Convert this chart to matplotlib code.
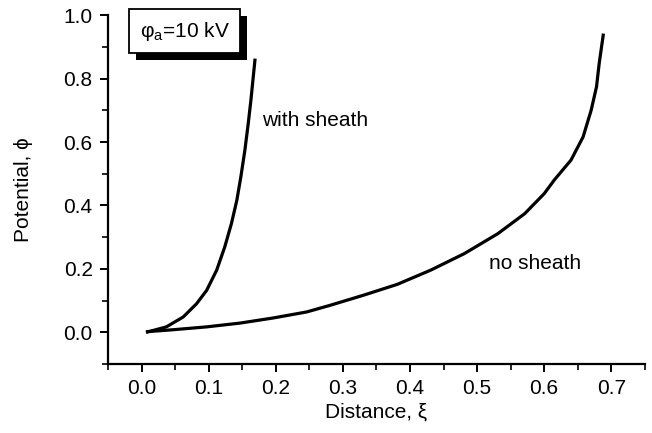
import matplotlib
matplotlib.use("Agg")
import matplotlib.pyplot as plt
from matplotlib.ticker import MultipleLocator
import matplotlib.patheffects as pe

plt.rcParams['font.family'] = ['Liberation Sans', 'DejaVu Sans']
plt.rcParams['mathtext.default'] = 'regular'

# Data
with_sheath_x = [0.009, 0.037, 0.062, 0.082, 0.097, 0.112, 0.124, 0.134, 0.142,
                 0.148, 0.154, 0.159, 0.163, 0.169]
with_sheath_y = [0.001, 0.017, 0.048, 0.090, 0.132, 0.196, 0.269, 0.343, 0.416,
                 0.490, 0.574, 0.658, 0.732, 0.858]

no_sheath_x = [0.009, 0.047, 0.097, 0.147, 0.196, 0.246, 0.281, 0.331, 0.381, 0.431,
               0.481, 0.531, 0.571, 0.600, 0.615, 0.640, 0.658, 0.670, 0.678, 0.682, 0.688]
no_sheath_y = [0.002, 0.008, 0.017, 0.029, 0.045, 0.064, 0.085, 0.117, 0.151, 0.196,
               0.248, 0.311, 0.374, 0.437, 0.480, 0.543, 0.616, 0.700, 0.774, 0.848, 0.937]

xticks = [0.0, 0.1, 0.2, 0.3, 0.4, 0.5, 0.6, 0.7]
yticks = [0.0, 0.2, 0.4, 0.6, 0.8, 1.0]

fig = plt.figure(figsize=(6.52, 4.33), dpi=100)
ax = fig.add_axes([0.1656, 0.1594, 0.8234, 0.8056])

ax.plot(with_sheath_x, with_sheath_y, color='black', lw=2.3, solid_joinstyle='round')
ax.plot(no_sheath_x, no_sheath_y, color='black', lw=2.3, solid_joinstyle='round')

ax.set_xlim(-0.05, 0.75)
ax.set_ylim(-0.1, 1.0)
ax.set_xticks(xticks)
ax.set_xticklabels([f"{v:.1f}" for v in xticks])
ax.set_yticks(yticks)
ax.set_yticklabels([f"{v:.1f}" for v in yticks])
ax.xaxis.set_minor_locator(MultipleLocator(0.05))
ax.yaxis.set_minor_locator(MultipleLocator(0.1))

for s in ['top', 'right']:
    ax.spines[s].set_visible(False)
for s in ['left', 'bottom']:
    ax.spines[s].set_linewidth(1.6)

ax.tick_params(axis='both', which='major', direction='out', length=6, width=1.4,
               labelsize=15, pad=5)
ax.tick_params(axis='both', which='minor', direction='out', length=4, width=1.2)

ax.set_xlabel('Distance, ξ', fontsize=15, labelpad=3)
ax.set_ylabel('Potential, ϕ', fontsize=15, labelpad=22)

ax.text(0.18, 0.669, 'with sheath', fontsize=15, ha='left', va='center')
ax.text(0.518, 0.218, 'no sheath', fontsize=15, ha='left', va='center')

ax.text(-0.003, 0.95, r'$φ_a$=10 kV', fontsize=15, ha='left', va='center',
        bbox=dict(boxstyle='square,pad=0.5', fc='white', ec='black', lw=1.3,
                  path_effects=[pe.withSimplePatchShadow(offset=(5, -5), shadow_rgbFace='black', alpha=1.0)]))

fig.savefig('out.png', dpi=100)
